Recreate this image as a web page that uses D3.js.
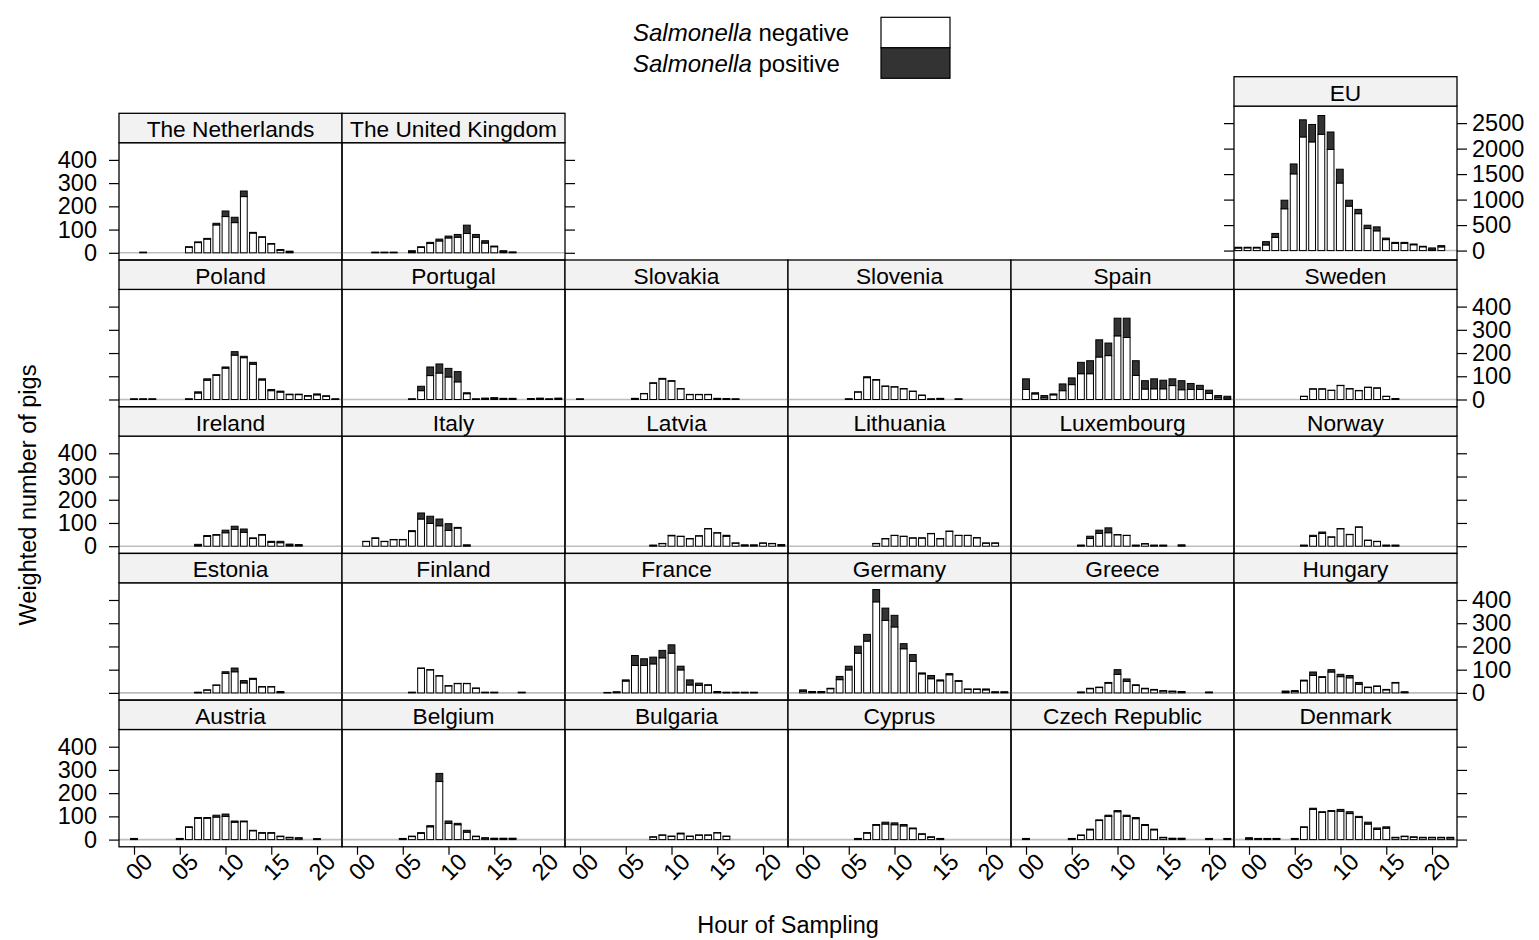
<!DOCTYPE html>
<meta charset="utf-8">
<style>
body { margin: 0; background: #fff; }
svg { font-family: "Liberation Sans", Arial, sans-serif; }
.axis path.domain { display: none; }
.axis .tick line { stroke: #000; stroke-width: 1.2px; }
.axis .tick text { font-size: 23.5px; fill: #000; font-family: "Liberation Sans", Arial, sans-serif; }
.axis text.hour { font-size: 23.5px; fill: #000; font-family: "Liberation Sans", Arial, sans-serif; }
.strip rect { fill: #f2f2f2; stroke: #000; stroke-width: 1.3px; }
.strip text { font-size: 22.7px; }
.frame { fill: none; stroke: #000; stroke-width: 1.3px; }
.zero { stroke: #bdbdbd; stroke-width: 1.6px; }
.neg { fill: #fff; stroke: #000; stroke-width: 1px; }
.pos { fill: #333; stroke: #000; stroke-width: 1px; }
.title { font-size: 23.5px; }
</style>
<body>
<script src="https://d3js.org/d3.v7.min.js"></script>
<script>
// hours 00..23, weighted number of pigs (negative / positive) per hour
var hours = d3.range(24);
var hourTicks = [0, 5, 10, 15, 20];
var hourLabels = ["00", "05", "10", "15", "20"];
var countTicks = [0, 100, 200, 300, 400];
var euTicks = [0, 500, 1000, 1500, 2000, 2500];

var austriaNeg = [2,0,0,0,0,3,53,92,92,97,100,75,77,38,28,28,13,8,6,0,2,0,0,0];
var austriaPos = [3,0,0,0,0,2,2,3,3,8,10,5,3,2,2,2,2,2,2,0,2,0,0,0];
var belgiumNeg = [0,0,0,0,0,3,13,27,55,250,70,64,32,13,6,4,4,4,0,0,0,0,0,0];
var belgiumPos = [0,0,0,0,0,2,2,3,5,35,10,6,8,2,2,2,2,2,0,0,0,0,0,0];
var bulgariaNeg = [0,0,0,0,0,0,0,0,11,19,14,25,14,19,19,29,14,0,0,0,0,0,0,0];
var bulgariaPos = [0,0,0,0,0,0,0,0,1,1,1,3,1,1,1,1,1,0,0,0,0,0,0,0];
var cyprusNeg = [0,0,0,0,0,0,3,28,62,67,64,59,47,23,10,3,0,0,0,0,0,0,0,0];
var cyprusPos = [0,0,0,0,0,0,2,2,3,8,8,6,3,2,2,2,0,0,0,0,0,0,0,0];
var czechNeg = [2,0,0,0,0,3,18,42,82,100,120,100,90,61,42,8,4,4,0,0,3,0,3,0];
var czechPos = [3,0,0,0,0,2,2,3,3,5,5,5,5,4,3,2,2,2,0,0,2,0,2,0];
var denmarkNeg = [5,3,3,3,0,3,53,130,117,122,122,112,95,67,44,49,8,13,10,8,8,8,7,0];
var denmarkPos = [3,2,2,2,0,2,2,5,3,3,8,8,5,8,6,6,2,2,2,2,2,2,3,0];
var estoniaNeg = [0,0,0,0,0,0,0,1,12,33,84,91,43,59,26,26,2,0,0,0,0,0,0,0];
var estoniaPos = [0,0,0,0,0,0,0,2,1,1,7,16,10,4,1,1,4,0,0,0,0,0,0,0];
var finlandNeg = [0,0,0,0,0,0,2,106,99,73,30,40,40,20,2,2,0,0,2,0,0,0,0,0];
var finlandPos = [0,0,0,0,0,0,1,1,1,1,1,1,1,1,1,1,0,0,1,0,0,0,0,0];
var franceNeg = [0,0,0,1,2,51,118,118,125,151,171,99,34,32,33,2,1,1,1,1,0,0,0,0];
var francePos = [0,0,0,1,3,5,43,29,29,32,36,16,22,10,2,4,2,2,2,2,0,0,0,0];
var germanyNeg = [7,3,3,18,57,99,171,223,392,312,284,190,136,82,61,52,78,50,15,15,13,2,2,0];
var germanyPos = [6,3,3,2,14,16,30,29,53,53,50,22,29,4,14,4,5,3,2,2,4,3,3,0];
var greeceNeg = [0,0,0,0,0,0,2,18,23,42,80,50,32,18,13,8,6,3,0,0,2,0,0,0];
var greecePos = [0,0,0,0,0,0,2,2,2,3,20,10,3,2,2,2,2,3,0,0,2,0,0,0];
var hungaryNeg = [0,0,0,0,4,6,52,75,67,90,70,65,37,23,28,13,43,2,0,0,0,0,0,0];
var hungaryPos = [0,0,0,0,4,4,3,15,3,10,10,10,8,2,2,2,2,3,0,0,0,0,0,0];
var irelandNeg = [0,0,0,0,0,0,0,3,42,48,58,72,60,33,48,17,15,4,3,0,0,0,0,0];
var irelandPos = [0,0,0,0,0,0,0,5,4,2,11,14,14,3,2,4,6,5,4,0,0,0,0,0];
var italyNeg = [0,20,34,20,28,28,63,117,98,88,68,78,2,0,0,0,0,0,0,0,0,0,0,0];
var italyPos = [0,1,2,1,1,1,4,26,31,29,29,3,4,0,0,0,0,0,0,0,0,0,0,0];
var latviaNeg = [0,0,0,0,0,0,0,0,2,11,45,42,32,44,75,57,43,13,3,3,13,11,4,0];
var latviaPos = [0,0,0,0,0,0,0,0,3,1,2,1,1,1,1,1,4,1,3,3,1,1,3,0];
var lithuaniaNeg = [0,0,0,0,0,0,0,0,11,32,46,42,35,35,54,32,64,46,46,36,13,13,0,0];
var lithuaniaPos = [0,0,0,0,0,0,0,0,1,1,1,1,1,1,1,1,1,1,1,1,1,1,0,0];
var luxembourgNeg = [0,0,0,0,0,0,2,33,55,58,49,46,2,10,2,2,0,2,0,0,0,0,0,0];
var luxembourgPos = [0,0,0,0,0,0,3,10,14,21,1,1,3,1,3,3,0,4,0,0,0,0,0,0];
var norwayNeg = [0,0,0,0,0,0,2,42,55,39,75,50,82,25,20,2,2,0,0,0,0,0,0,0];
var norwayPos = [0,0,0,0,0,0,3,5,6,1,1,1,1,1,1,3,3,0,0,0,0,0,0,0];
var polandNeg = [1,1,1,0,0,0,1,28,83,104,135,191,180,152,84,38,32,21,21,15,20,14,1,0];
var polandPos = [2,2,2,0,0,0,2,5,6,3,5,15,6,8,5,5,4,2,2,2,4,2,2,0];
var portugalNeg = [0,0,0,0,0,0,1,38,103,114,97,76,25,1,3,5,2,2,0,2,3,1,3,0];
var portugalPos = [0,0,0,0,0,0,2,19,37,39,37,44,4,2,3,3,3,3,0,2,3,2,3,0];
var slovakiaNeg = [1,0,0,0,0,0,2,25,70,88,79,46,21,21,21,3,2,1,0,0,0,0,0,0];
var slovakiaPos = [2,0,0,0,0,0,3,1,2,3,2,1,1,1,1,2,2,2,0,0,0,0,0,0];
var sloveniaNeg = [0,0,0,0,0,1,32,94,84,57,54,46,35,18,1,3,0,1,0,0,0,0,0,0];
var sloveniaPos = [0,0,0,0,0,2,1,4,2,1,1,1,1,1,2,2,0,2,0,0,0,0,0,0];
var spainNeg = [43,24,7,20,38,64,111,111,183,189,274,267,104,45,46,46,60,42,43,43,26,7,6,0];
var spainPos = [46,5,10,4,29,29,49,56,74,54,76,83,63,36,43,37,29,39,26,18,14,10,8,0];
var swedenNeg = [0,0,0,0,0,0,13,45,45,39,60,46,38,52,49,13,2,0,0,0,0,0,0,0];
var swedenPos = [0,0,0,0,0,0,1,1,1,1,1,1,1,1,1,1,2,0,0,0,0,0,0,0];
var netherlandsNeg = [0,0,0,0,0,0,24,44,59,120,156,130,242,85,67,38,11,3,0,0,0,0,0,0];
var netherlandsPos = [0,3,0,0,0,0,2,3,3,7,24,23,24,3,2,2,3,4,0,0,0,0,0,0];
var ukNeg = [0,0,1,1,1,0,4,23,40,51,64,67,83,67,42,26,4,1,0,0,0,0,0,0];
var ukPos = [0,0,2,2,2,0,5,3,5,8,8,12,36,12,10,3,5,3,0,0,0,0,0,0];
var euNeg = [50,53,53,110,258,820,1505,2229,2132,2281,1984,1325,872,724,432,387,215,141,141,114,74,12,72,0];
var euPos = [15,12,12,65,78,168,194,336,342,368,342,271,116,84,65,78,30,20,20,15,10,40,25,0];

var countries = ["Austria", "Belgium", "Bulgaria", "Cyprus", "Czech Republic", "Denmark",
  "Estonia", "Finland", "France", "Germany", "Greece", "Hungary",
  "Ireland", "Italy", "Latvia", "Lithuania", "Luxembourg", "Norway",
  "Poland", "Portugal", "Slovakia", "Slovenia", "Spain", "Sweden",
  "The Netherlands", "The United Kingdom"];
var negative = [austriaNeg, belgiumNeg, bulgariaNeg, cyprusNeg, czechNeg, denmarkNeg,
  estoniaNeg, finlandNeg, franceNeg, germanyNeg, greeceNeg, hungaryNeg,
  irelandNeg, italyNeg, latviaNeg, lithuaniaNeg, luxembourgNeg, norwayNeg,
  polandNeg, portugalNeg, slovakiaNeg, sloveniaNeg, spainNeg, swedenNeg,
  netherlandsNeg, ukNeg];
var positive = [austriaPos, belgiumPos, bulgariaPos, cyprusPos, czechPos, denmarkPos,
  estoniaPos, finlandPos, francePos, germanyPos, greecePos, hungaryPos,
  irelandPos, italyPos, latviaPos, lithuaniaPos, luxembourgPos, norwayPos,
  polandPos, portugalPos, slovakiaPos, sloveniaPos, spainPos, swedenPos,
  netherlandsPos, ukPos];

var width = 1539, height = 940;
var left = 119, colW = 223, nCols = 6, nRows = 5;
var rowTop = 113.3, rowH = 146.7, stripH = 29.4;
var panelH = rowH - stripH;
var barW = 6.8;

var svg = d3.select("body").append("svg")
    .attr("width", width)
    .attr("height", height);

var x = d3.scaleLinear().domain([-1.64, 22.73]).range([0, colW]);
var y = d3.scaleLinear().domain([-31, 474]).range([panelH, 0]);

// EU panel sits on its own, taller
var euStripTop = 76.7, euPanelTop = 106.1, euPanelH = 260 - 106.1;
var xEU = d3.scaleLinear().domain([-0.466, 23.7]).range([0, colW]);
var yEU = d3.scaleLinear().domain([-185, 2834]).range([euPanelH, 0]);

var clipId = 0;

function panel(px, py, h, name, neg, pos, xs, ys) {
  var g = svg.append("g").attr("transform", "translate(" + px + "," + py + ")");
  var id = "clip" + (clipId++);
  g.append("clipPath").attr("id", id)
    .append("rect").attr("width", colW).attr("height", h);
  var body = g.append("g").attr("clip-path", "url(#" + id + ")");

  body.append("line")
    .attr("class", "zero")
    .attr("x1", 0).attr("x2", colW)
    .attr("y1", ys(0)).attr("y2", ys(0));

  var data = hours.map(function(d) { return { h: d, n: neg[d], p: pos[d] }; });

  body.selectAll("rect.neg")
    .data(data.filter(function(d) { return d.n > 0; }))
    .join("rect")
      .attr("class", "neg")
      .attr("x", function(d) { return xs(d.h) - barW / 2; })
      .attr("width", barW)
      .attr("y", function(d) { return ys(d.n); })
      .attr("height", function(d) { return ys(0) - ys(d.n); });

  body.selectAll("rect.pos")
    .data(data.filter(function(d) { return d.p > 0; }))
    .join("rect")
      .attr("class", "pos")
      .attr("x", function(d) { return xs(d.h) - barW / 2; })
      .attr("width", barW)
      .attr("y", function(d) { return ys(d.n + d.p); })
      .attr("height", function(d) { return ys(d.n) - ys(d.n + d.p); });

  g.append("rect").attr("class", "frame").attr("width", colW).attr("height", h);

  var s = g.append("g").attr("class", "strip").attr("transform", "translate(0," + (-stripH) + ")");
  s.append("rect").attr("width", colW).attr("height", stripH);
  s.append("text")
    .attr("x", colW / 2)
    .attr("y", stripH - 5.5)
    .attr("text-anchor", "middle")
    .text(name);
}

// country panels, filled from bottom-left, left to right
countries.forEach(function(name, i) {
  var rowFromBottom = Math.floor(i / nCols);
  var col = i % nCols;
  var r = nRows - 1 - rowFromBottom;
  var py = rowTop + r * rowH + stripH;
  panel(left + col * colW, py, panelH, name, negative[i], positive[i], x, y);
});

panel(left + 5 * colW, euPanelTop, euPanelH, "EU", euNeg, euPos, xEU, yEU);

// y axes: labels alternate left / right by row
for (var r = 0; r < nRows; r++) {
  var py = rowTop + r * rowH + stripH;
  var labelLeft = (r % 2 === 0);
  svg.append("g")
    .attr("class", "axis")
    .attr("transform", "translate(" + left + "," + py + ")")
    .call(d3.axisLeft(y).tickValues(countTicks).tickSize(10).tickPadding(12)
      .tickFormat(labelLeft ? d3.format("d") : ""));
  var rightX = r === 0 ? left + 2 * colW : left + nCols * colW;
  svg.append("g")
    .attr("class", "axis")
    .attr("transform", "translate(" + rightX + "," + py + ")")
    .call(d3.axisRight(y).tickValues(countTicks).tickSize(10).tickPadding(5)
      .tickFormat(labelLeft ? "" : d3.format("d")));
}

svg.append("g")
  .attr("class", "axis")
  .attr("transform", "translate(" + (left + 5 * colW) + "," + euPanelTop + ")")
  .call(d3.axisLeft(yEU).tickValues(euTicks).tickSize(10).tickFormat(""));
svg.append("g")
  .attr("class", "axis")
  .attr("transform", "translate(" + (left + 6 * colW) + "," + euPanelTop + ")")
  .call(d3.axisRight(yEU).tickValues(euTicks).tickSize(10).tickPadding(5).tickFormat(d3.format("d")));

// x axes under the bottom row
var bottomY = rowTop + nRows * rowH;
for (var c = 0; c < nCols; c++) {
  var gx = svg.append("g")
    .attr("class", "axis")
    .attr("transform", "translate(" + (left + c * colW) + "," + bottomY + ")");
  gx.call(d3.axisBottom(x).tickValues(hourTicks).tickSize(8).tickFormat(""));
  gx.selectAll("text.hour")
    .data(hourTicks)
    .join("text")
      .attr("class", "hour")
      .attr("fill", "#000")
      .attr("transform", function(d) { return "translate(" + (x(d) + 5) + ",20) rotate(-45)"; })
      .attr("text-anchor", "middle")
      .attr("dy", "0.35em")
      .text(function(d, i) { return hourLabels[i]; });
}

// axis titles
svg.append("text")
  .attr("class", "title")
  .attr("x", left + 3 * colW)
  .attr("y", 933)
  .attr("text-anchor", "middle")
  .text("Hour of Sampling");

svg.append("text")
  .attr("class", "title")
  .attr("transform", "translate(36,495) rotate(-90)")
  .attr("text-anchor", "middle")
  .text("Weighted number of pigs");

// legend
var legendNames = ["negative", "positive"];
var legendFill = ["#fff", "#333"];
var legend = svg.append("g");
legendNames.forEach(function(n, i) {
  var t = legend.append("text")
    .attr("x", 633)
    .attr("y", 41 + i * 30.5)
    .style("font-size", "24px");
  t.append("tspan").style("font-style", "italic").text("Salmonella");
  t.append("tspan").text(" " + n);
  legend.append("rect")
    .attr("x", 881)
    .attr("y", 17.3 + i * 30.5)
    .attr("width", 69)
    .attr("height", 30.5)
    .attr("fill", legendFill[i])
    .attr("stroke", "#000")
    .attr("stroke-width", 1.2);
});
</script>
</body>
